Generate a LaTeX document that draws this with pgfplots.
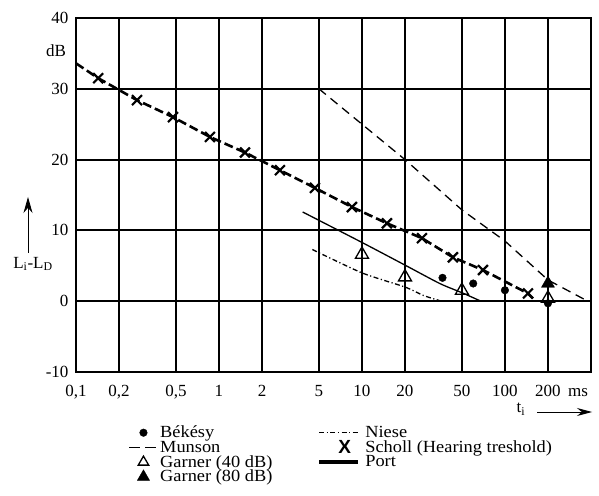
\documentclass[border=0pt]{standalone}
\usepackage{fontspec}
\setmainfont{Liberation Serif}
\newfontfamily\sansx{Liberation Sans}
\newfontfamily\legfont[FakeStretch=1.08]{Liberation Serif}
\usepackage{pgfplots}
\pgfplotsset{compat=1.18}
\usetikzlibrary{arrows.meta}

\begin{document}
\begin{tikzpicture}[x=1pt,y=1pt,font=\fontsize{17}{18}\selectfont]
\path[use as bounding box] (0,0) rectangle (599,495);
\begin{axis}[
    at={(76pt,123pt)}, anchor=south west,
    scale only axis, width=515pt, height=354pt,
    xmode=log, xmin=0.1, xmax=400,
    ymin=-10, ymax=40,
    xtick={0.1,0.2,0.5,1,2,5,10,20,50,100,200},
    xticklabels={{0,1},{0,2},{0,5},1,2,5,10,20,50,100,200},
    minor xtick={},
    ytick={-10,0,10,20,30,40},
    major tick length=0pt,
    grid=major,
    major grid style={line width=2pt, black},
    axis line style={line width=2pt},
    tick label style={font=\fontsize{17}{18}\selectfont},
    xticklabel style={yshift=-10pt},
    yticklabel style={xshift=-4pt},
    /pgf/number format/assume math mode=true,
    legend columns=2,
    legend cell align=left,
    legend style={at={(0.096,-0.1408)}, anchor=north west, draw=none, fill=none,
        font=\fontsize{17}{18}\selectfont\legfont, row sep=-2.6pt,
        /tikz/every even column/.append style={column sep=43pt}},
]
% Munson
\addplot[forget plot, line width=1.3pt, dash pattern=on 9pt off 6pt]
    coordinates {(5,30) (10,25) (20,20) (50,12.9) (100,8.5) (200,3.0) (380,0)};
% Port
\addplot[forget plot, line width=1.3pt, smooth, tension=0.4]
    coordinates {(3.85,12.6) (10,8.3) (20,5.1) (35,2.5) (50,1.2) (68,0)};
% Niese
\addplot[forget plot, line width=1.3pt, smooth, tension=0.4,
    dash pattern=on 5pt off 2.5pt on 1.2pt off 2.5pt]
    coordinates {(4.5,7.3) (10,4.0) (20,2.0) (27,0.8) (36,0)};
% Scholl (Hearing treshold)
\addplot[forget plot, line width=2.6pt, dash pattern=on 9pt off 4pt]
    coordinates {(0.1,33.6) (0.143,31.5) (0.267,28.4) (0.477,26.0) (0.865,23.2)
        (1.52,21.0) (2.67,18.5) (4.69,16.0) (8.51,13.3) (14.96,11.0) (26.3,8.9)
        (43.3,6.2) (70.2,4.4) (145,1.1) (157,0.4)};
\addplot[forget plot, only marks, mark=x, mark size=7pt, mark options={line width=2.2pt}]
    coordinates {(0.143,31.5) (0.267,28.4) (0.477,26.0) (0.865,23.2)
        (1.52,21.0) (2.67,18.5) (4.69,16.0) (8.51,13.3) (14.96,11.0) (26.3,8.9)
        (43.3,6.2) (70.2,4.4) (145,1.1)};
% Bekesy
\addplot[forget plot, only marks, mark=*, mark size=3.8pt]
    coordinates {(36.6,3.3) (60,2.5) (100,1.55) (200,-0.3)};
% Garner (40 dB)
\addplot[forget plot, only marks, mark=triangle, mark size=7.5pt,
    mark options={line width=1.3pt, fill=white}]
    coordinates {(10,6.6) (20,3.4) (50,1.5) (200,0.4)};
% Garner (80 dB)
\addplot[forget plot, only marks, mark=triangle*, mark size=7.5pt]
    coordinates {(200,2.5)};

\addlegendimage{only marks, mark=*, mark size=3.8pt}
\addlegendentry{Békésy}
\addlegendimage{legend image code/.code={\draw[line width=1.3pt,
    dash pattern=on 5pt off 2.5pt on 1.2pt off 2.5pt] (0pt,0pt) -- (39pt,0pt);
    \path (44pt,0pt);}}
\addlegendentry{Niese}
\addlegendimage{legend image code/.code={\draw[line width=1.6pt,
    dash pattern=on 11pt off 5pt] (-5.5pt,0pt) -- (22.5pt,0pt);}}
\addlegendentry{Munson}
\addlegendimage{legend image code/.code={\node[inner sep=0pt] at (19pt,0pt)
    {\fontsize{19}{19}\selectfont\sansx\bfseries X}; \path (0pt,0pt) (44pt,0pt);}}
\addlegendentry{Scholl (Hearing treshold)}
\addlegendimage{only marks, mark=triangle, mark size=6pt, mark options={line width=1.3pt}}
\addlegendentry{Garner (40 dB)}
\addlegendimage{legend image code/.code={\draw[line width=3.5pt] (0pt,0pt) -- (39pt,0pt);
    \path (44pt,0pt);}}
\addlegendentry{Port}
\addlegendimage{only marks, mark=triangle*, mark size=7pt}
\addlegendentry{Garner (80 dB)}
\end{axis}
\node at (56,444) {dB};
\node at (578,102) {ms};
\draw[line width=0.8pt, -{Stealth[length=16pt,width=9pt]}] (28,242) -- (28,298);
\node at (33,231) {L\textsubscript{i}-L\textsubscript{D}};
\node at (521,86) {t\textsubscript{i}};
\draw[line width=0.8pt, -{Stealth[length=15pt,width=8pt]}] (537,83) -- (592,83);
\end{tikzpicture}
\end{document}
